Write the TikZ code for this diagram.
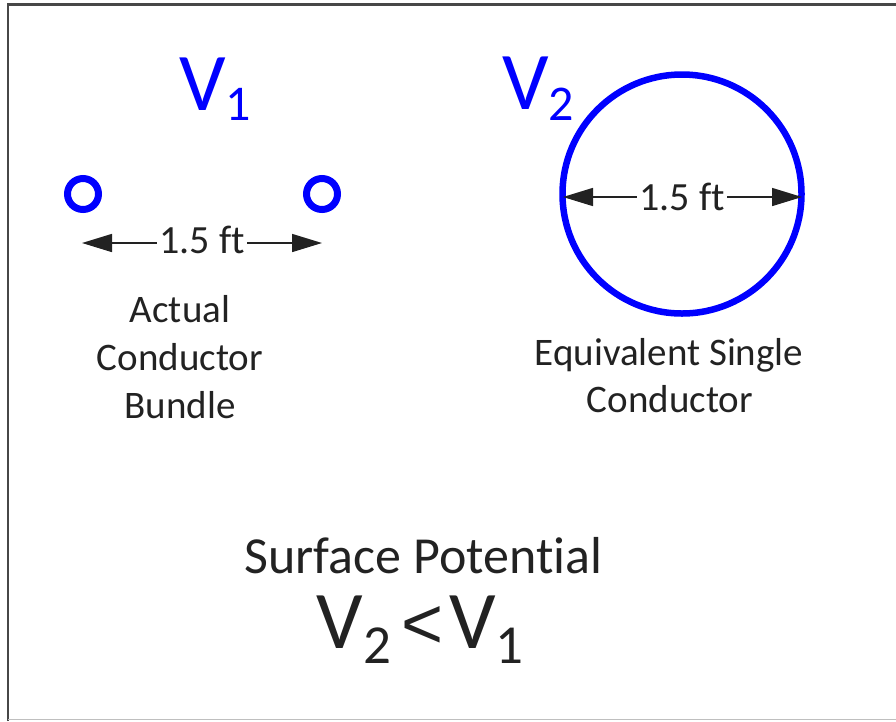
\documentclass[tikz,border=0pt]{standalone}
\usepackage{fontspec}
\setmainfont{Carlito}[RawFeature=-liga]
\newfontfamily\symfont{Liberation Sans}
\usetikzlibrary{arrows.meta}
\definecolor{txt}{HTML}{222222}
\definecolor{wire}{HTML}{0000FF}
\begin{document}
\begin{tikzpicture}[x=1pt,y=-1pt,
  lbl/.style={font=\fontsize{39}{47}\selectfont, text=txt, anchor=base, inner sep=0pt},
  dim/.style={line width=1.5pt, draw=txt, {Triangle[length=30pt,width=18pt]}-{Triangle[length=30pt,width=18pt]}},
  dimtext/.style={font=\fontsize{40}{48}\selectfont, text=txt, fill=white, inner sep=2pt, anchor=base},
  cond/.style={circle, draw=wire, inner sep=0pt, outer sep=0pt},
  vlab/.style={text=wire, anchor=base west, inner sep=0pt, font=\fontsize{82}{98}\selectfont},
  big/.style={text=txt, anchor=base, inner sep=0pt}
]
\useasboundingbox (0,0) rectangle (896,721);
% frame
\draw[line width=2.5pt, draw=black!72] (8,721) -- (8,4.5) -- (896,4.5);
\draw[line width=1pt, draw=black!25] (8,719.5) -- (896,719.5);

% voltage labels
\node[vlab] (v1) at (179,110) {V\raisebox{-10pt}{\fontsize{50}{60}\selectfont 1}};
\node[vlab] (v2) at (502,109) {V\raisebox{-11pt}{\fontsize{50}{60}\selectfont 2}};

% bundle conductors
\node[cond, line width=7pt, minimum size=31pt] (c1) at (83,194) {};
\node[cond, line width=7pt, minimum size=31pt] (c2) at (322,194) {};
\coordinate (d1l) at (82,243);
\coordinate (d1r) at (322,243);
\draw[dim] (d1l) -- (d1r);
\node[dimtext] (d1t) at (202,253) {1.5 ft};

% equivalent conductor
\node[cond, line width=6.5pt, minimum size=239pt] (eq) at (682,194) {};
\coordinate (d2l) at (563,197);
\coordinate (d2r) at (802,197);
\draw[dim] (d2l) -- (d2r);
\node[dimtext] (d2t) at (682,210) {1.5 ft};

% captions
\node[lbl] (a1) at (180,322) {Actual};
\node[lbl] (a2) at (180,370) {Conductor};
\node[lbl] (a3) at (180,418) {Bundle};
\node[lbl] (e1) at (669,365) {Equivalent Single};
\node[lbl] (e2) at (670,412) {Conductor};

% bottom statement
\node[big, font=\fontsize{52}{62}\selectfont] (sp) at (423.5,573) {Surface Potential};
\node[big, font=\fontsize{82}{98}\selectfont] (ineq) at (420,648)
  {V\raisebox{-15pt}{\fontsize{55}{60}\selectfont 2}\hspace{11pt}{\symfont\fontsize{72}{80}\selectfont <}\hspace{5pt}V\raisebox{-15pt}{\fontsize{55}{60}\selectfont 1}};
\end{tikzpicture}
\end{document}
